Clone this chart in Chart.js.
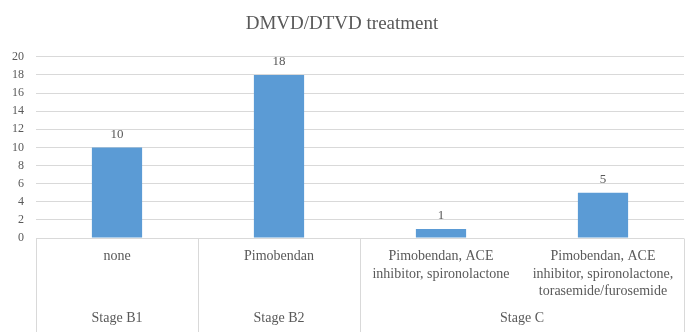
<!DOCTYPE html>
<html>
<head>
<meta charset="utf-8">
<script src="https://cdn.jsdelivr.net/npm/chart.js@4/dist/chart.umd.min.js"></script>
<style>
  body { margin: 0; background: #fff; }
</style>
</head>
<body>
<canvas id="treatmentChart" width="700" height="332"></canvas>
<script>
'use strict';

// treatment groups and how many dogs got each
const treatments = [
  'none',
  'Pimobendan',
  ['Pimobendan, ACE', 'inhibitor, spironolactone'],
  ['Pimobendan, ACE', 'inhibitor, spironolactone,', 'torasemide/furosemide']
];
const stages = ['Stage B1', 'Stage B2', 'Stage C'];
const stageIndex = [0, 1, 2, 2];
const dogCounts = [10, 18, 1, 5];
const yMin = 0, yMax = 20, yStep = 2;

const textColor = '#595959';
const lineColor = '#d9d9d9';
const fontFamily = '"Liberation Serif", "DejaVu Serif", serif';

// draws the value labels, the stage row and the category box lines
const stageAxis = {
  id: 'stageAxis',
  afterDraw(chart) {
    const ctx = chart.ctx;
    const x = chart.scales.x;
    const top = Math.round(x.top) + 0.5;
    const bottom = chart.height;

    ctx.save();
    ctx.strokeStyle = lineColor;
    ctx.lineWidth = 1;
    ctx.beginPath();
    ctx.moveTo(x.left, top);
    ctx.lineTo(x.right, top);
    ctx.stroke();

    // vertical dividers: outer edges and wherever the stage changes
    const edges = [x.left, x.right];
    for (let i = 1; i < treatments.length; i++) {
      if (stageIndex[i] !== stageIndex[i - 1]) {
        edges.push((x.getPixelForValue(i - 1) + x.getPixelForValue(i)) / 2);
      }
    }
    for (const e of edges) {
      const px = Math.round(e) + 0.5;
      ctx.beginPath();
      ctx.moveTo(px, top);
      ctx.lineTo(px, bottom);
      ctx.stroke();
    }

    // stage names centred under their treatments
    ctx.fillStyle = textColor;
    ctx.font = '14px ' + fontFamily;
    ctx.textAlign = 'center';
    ctx.textBaseline = 'middle';
    const half = (x.getPixelForValue(1) - x.getPixelForValue(0)) / 2;
    stages.forEach((name, s) => {
      const idx = stageIndex.map((v, i) => v === s ? i : -1).filter(i => i >= 0);
      const left = x.getPixelForValue(idx[0]) - half;
      const right = x.getPixelForValue(idx[idx.length - 1]) + half;
      ctx.fillText(name, (left + right) / 2, x.top + 80);
    });

    // counts above the bars
    const meta = chart.getDatasetMeta(0);
    ctx.font = '13px ' + fontFamily;
    meta.data.forEach((bar, i) => {
      ctx.fillText(String(dogCounts[i]), bar.x, bar.y - 13);
    });
    ctx.restore();
  }
};

new Chart(document.getElementById('treatmentChart'), {
  type: 'bar',
  data: {
    labels: treatments,
    datasets: [{
      label: 'Dogs',
      data: dogCounts,
      backgroundColor: '#5b9bd5',
      borderWidth: 0,
      categoryPercentage: 1,
      barPercentage: 0.31
    }]
  },
  options: {
    responsive: false,
    animation: false,
    devicePixelRatio: 1,
    layout: { padding: { left: 0, right: 16, top: 0, bottom: 0 } },
    plugins: {
      legend: { display: false },
      tooltip: { enabled: false },
      title: {
        display: true,
        text: 'DMVD/DTVD treatment',
        color: textColor,
        font: { family: fontFamily, size: 19, weight: 'normal' },
        padding: { top: 13, bottom: 21 }
      }
    },
    scales: {
      x: {
        grid: { display: false, drawTicks: false },
        border: { display: false },
        ticks: {
          color: textColor,
          font: { family: fontFamily, size: 14, lineHeight: 1.25 },
          padding: 10,
          maxRotation: 0,
          minRotation: 0,
          autoSkip: false
        },
        afterFit(scale) { scale.height = 94; }
      },
      y: {
        min: yMin,
        max: yMax,
        grid: { color: lineColor, drawTicks: false },
        border: { display: false },
        ticks: {
          stepSize: yStep,
          color: textColor,
          font: { family: fontFamily, size: 12 },
          padding: 12
        },
        afterFit(scale) { scale.width = 36; }
      }
    }
  },
  plugins: [stageAxis]
});
</script>
</body>
</html>
